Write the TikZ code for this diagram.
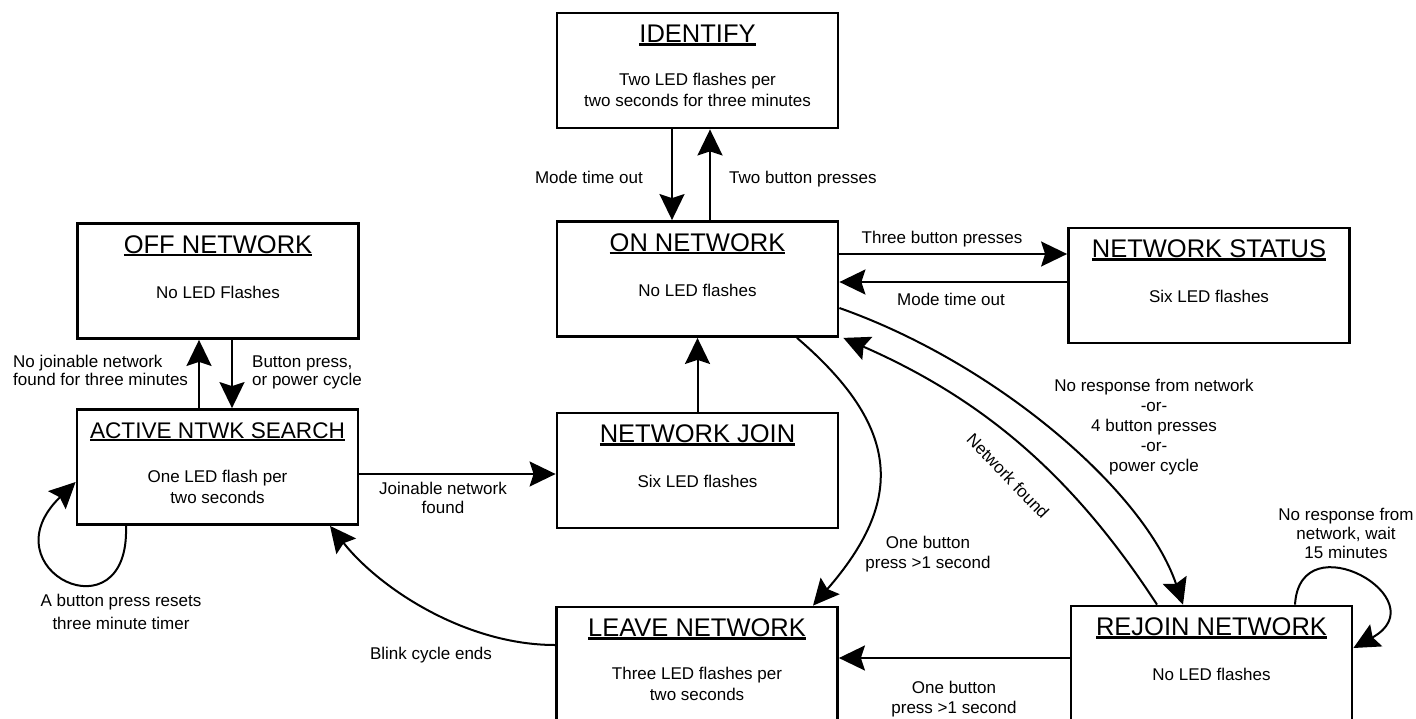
\documentclass[tikz,border=0pt]{standalone}
\usepackage{fontspec}
\setmainfont{Liberation Sans}
\usetikzlibrary{arrows.meta,calc}
\newsavebox\ttlbox
\newcommand\ulttl[1]{\sbox\ttlbox{#1}\rlap{\rule[-3pt]{\wd\ttlbox}{2.4pt}}\usebox\ttlbox}
\begin{document}
\begin{tikzpicture}[x=1pt,y=-1pt,
  box/.style={draw,line width=2.8pt,minimum width=281pt,minimum height=115pt,inner sep=0pt},
  ttl/.style={anchor=base,inner sep=0pt,font=\fontsize{25.5}{30}\selectfont},
  body/.style={anchor=base,inner sep=0pt,align=center,font=\fontsize{17}{21}\selectfont},
  lbl/.style={inner sep=0pt,align=center,font=\fontsize{17}{20}\selectfont},
  arr/.style={line width=2pt,-{Stealth[length=26pt,width=25pt,inset=4pt]}}]
\useasboundingbox (0,0) rectangle (1416,718);
% boxes
\node[box] (id) at (697.5,70.5) {};
\node[box] (on) at (697.5,279) {};
\node[box] (ns) at (1209,285.5) {};
\node[box] (off) at (218,281) {};
\node[box] (as) at (217.5,467) {};
\node[box] (nj) at (697.5,470.5) {};
\node[box] (lv) at (697,664.5) {};
\node[box] (rj) at (1211.5,663.5) {};
% titles
\node[ttl] (idt) at ($(id.center)+(0,-28)$) {\ulttl{IDENTIFY}};
\node[ttl] (ont) at ($(on.center)+(0,-28)$) {\ulttl{ON NETWORK}};
\node[ttl] (nst) at ($(ns.center)+(0,-28)$) {\ulttl{NETWORK STATUS}};
\node[ttl] (offt) at ($(off.center)+(0,-28)$) {\ulttl{OFF NETWORK}};
\node[ttl,font=\fontsize{22.6}{27}\selectfont] (ast) at ($(as.center)+(0,-29)$) {\ulttl{ACTIVE NTWK SEARCH}};
\node[ttl] (njt) at ($(nj.center)+(0,-28)$) {\ulttl{NETWORK JOIN}};
\node[ttl] (lvt) at ($(lv.center)+(0,-28)$) {\ulttl{LEAVE NETWORK}};
\node[ttl] (rjt) at ($(rj.center)+(0,-28)$) {\ulttl{REJOIN NETWORK}};
% bodies
\node[body] (idb) at ($(id.center)+(0,36)$) {Two LED flashes per\\two seconds for three minutes};
\node[body] (onb) at ($(on.center)+(0,17)$) {No LED flashes};
\node[body] (nsb) at ($(ns.center)+(0,17)$) {Six LED flashes};
\node[body] (offb) at ($(off.center)+(0,17)$) {No LED Flashes};
\node[body] (asb) at ($(as.center)+(0,36)$) {One LED flash per\\two seconds};
\node[body] (njb) at ($(nj.center)+(0,17)$) {Six LED flashes};
\node[body] (lvb) at ($(lv.center)+(0,36)$) {Three LED flashes per\\two seconds};
\node[body] (rjb) at ($(rj.center)+(0,17)$) {No LED flashes};
% straight connectors
\draw[arr] ([xshift=-25.5pt]id.south) -- ([xshift=-25.5pt]on.north);
\draw[arr] ([xshift=12.5pt]on.north) -- ([xshift=12.5pt]id.south);
\draw[arr] (on.east |- 0,254) -- (ns.west |- 0,254);
\draw[arr] (ns.west |- 0,282) -- (on.east |- 0,282);
\draw[arr] ([xshift=-18.5pt]as.north) -- ([xshift=-19pt]off.south);
\draw[arr] ([xshift=14pt]off.south) -- ([xshift=14.5pt]as.north);
\draw[arr] (as.east |- 0,474) -- (nj.west |- 0,474);
\draw[arr] (nj.north) -- (on.south);
\draw[arr] (rj.west |- 0,658) -- (lv.east |- 0,658);
% curved connectors
\draw[arr] (on.east |- 0,308) .. controls (998,364) and (1145,492) .. (rj.north -| 1183,0);
\draw[arr] (rj.north -| 1157,0) .. controls (1074,477) and (985,400) .. ([xshift=4pt]on.south east);
\draw[arr] (on.south -| 797,0) .. controls (902,428) and (904,501) .. (lv.north -| 813,0);
\draw[arr] (lv.west |- 0,645) .. controls (467,645) and (381,590) .. (as.south -| 330,0);
\draw[arr] (as.south -| 126,0) .. controls (130,640) and (-15,570) .. (as.west |- 0,482);
\draw[arr] (rj.north -| 1295,0) .. controls (1300,520) and (1440,600) .. (rj.east |- 0,648);
% labels
\node[lbl,anchor=base east] (l1) at (643,183) {Mode time out};
\node[lbl,anchor=base west] (l2) at (729,183) {Two button presses};
\node[lbl,anchor=base] (l3) at (942,243) {Three button presses};
\node[lbl,anchor=base] (l4) at (951,305) {Mode time out};
\node[lbl,anchor=base west,align=left,font=\fontsize{17}{18}\selectfont] (l5) at (13,385) {No joinable network\\found for three minutes};
\node[lbl,anchor=base west,align=left,font=\fontsize{17}{18}\selectfont] (l6) at (252,385) {Button press,\\or power cycle};
\node[lbl,anchor=base,font=\fontsize{17}{19}\selectfont] (l7) at (443,513) {Joinable network\\found};
\node[lbl,anchor=base] (l8) at (928,568) {One button\\press >1 second};
\node[lbl,anchor=base] (l9) at (954,713) {One button\\press >1 second};
\node[lbl,anchor=base] (l10) at (431,659) {Blink cycle ends};
\node[lbl,anchor=base,font=\fontsize{17}{23}\selectfont] (l11) at (121,629) {A button press resets\\three minute timer};
\node[lbl,anchor=base] (l12) at (1154,471) {No response from network\\-or-\\4 button presses\\-or-\\power cycle};
\node[lbl,anchor=base,font=\fontsize{17}{19}\selectfont] (l13) at (1346,558) {No response from\\network, wait\\15 minutes};
\node[lbl,rotate=-46] (l14) at (1008,476) {Network found};
\end{tikzpicture}
\end{document}
